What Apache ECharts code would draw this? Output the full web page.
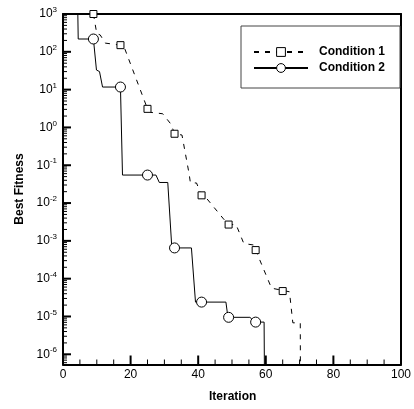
<!DOCTYPE html>
<html>
<head>
<meta charset="utf-8">
<script src="https://cdn.jsdelivr.net/npm/echarts@6/dist/echarts.min.js"></script>
<style>
html,body{margin:0;padding:0;background:#fff;}
#chart{width:414px;height:409px;}
</style>
</head>
<body>
<div id="chart"></div>
<script>
// ---- data (iteration, best fitness) ----
const cond1Iter = [9, 10, 11, 12.5, 17, 18, 25, 26, 29.5, 32, 33, 35.2, 37.3, 37.7, 39.5, 41, 42, 47.5, 48, 49, 51.2, 53.5, 56.7, 57, 57.5, 61.7, 64.5, 65, 67, 68, 70.2, 70.3];
const cond1Fit  = [1000, 300, 280, 170, 150, 140, 3.1, 2.5, 2.3, 1.2, 0.68, 0.63, 0.06, 0.034, 0.034, 0.016, 0.015, 0.0038, 0.0035, 0.0027, 0.0027, 0.00085, 0.00077, 0.00057, 0.00052, 0.000056, 0.00005, 0.000047, 0.000045, 0.0000068, 0.0000068, 1e-8];
const cond2Iter = [4.3, 4.5, 9, 9.3, 9.9, 10.8, 11.7, 17, 17.3, 17.6, 25, 27.5, 28.5, 31, 32.2, 33, 38, 39.2, 41, 48.2, 48.8, 49, 55.3, 56.8, 57, 59.5, 59.7];
const cond2Fit  = [3000, 218, 218, 218, 33, 30, 11.7, 11.7, 11.7, 0.055, 0.055, 0.055, 0.035, 0.035, 0.00065, 0.00065, 0.00065, 0.000024, 0.000024, 0.000024, 0.0000095, 0.0000095, 0.0000095, 0.0000071, 0.0000071, 0.0000071, 1e-8];
const cond1Markers = [9, 17, 25, 33, 41, 49, 57, 65];
const cond2Markers = [9, 17, 25, 33, 41, 49, 57];
const seriesNames = ['Condition 1', 'Condition 2'];
const xMajorTicks = [20, 40, 60, 80];
const xMinorTicks = [5, 10, 15, 25, 30, 35, 45, 50, 55, 65, 70, 75, 85, 90, 95];
const yDecades = [-6, -5, -4, -3, -2, -1, 0, 1, 2, 3];
const xTitle = 'Iteration';
const yTitle = 'Best Fitness';

const FONT = 'Liberation Sans, Arial, sans-serif';
const yMin = -6.27, yMax = 3;

function build(iters, fits, markers) {
  return iters.map((x, i) => {
    const item = { value: [x, Math.log10(fits[i])] };
    if (markers.indexOf(x) < 0) item.symbol = 'none';
    return item;
  });
}
const yMinor = [];
for (let n = -7; n <= 2; n++) {
  for (let k = 2; k <= 9; k++) {
    const v = n + Math.log10(k);
    if (v > yMin && v < yMax) yMinor.push(v);
  }
}

// tick data: [x, y, length, width, direction]  (0 = y-axis tick, 1 = x-axis tick)
const tickData = yDecades.map(v => [0, v, 8, 2, 0])
  .concat(yMinor.map(v => [0, v, 4, 1, 0]))
  .concat(xMajorTicks.map(v => [v, yMin, 9, 2, 1]))
  .concat(xMinorTicks.map(v => [v, yMin, 5, 1, 1]));

function tickShape(p, len, dir) {
  return dir === 0
    ? { x1: p[0], y1: p[1], x2: p[0] + len, y2: p[1] }
    : { x1: p[0], y1: p[1], x2: p[0], y2: p[1] - len };
}

const titleGraphics = [
  { type: 'text', top: 391, left: 209, style: { text: xTitle, font: 'bold 12px ' + FONT, fill: '#000' } },
  { type: 'text', x: 20, y: 189, rotation: Math.PI / 2,
    style: { text: yTitle, font: 'bold 12px ' + FONT, fill: '#000', align: 'center', verticalAlign: 'middle' } }
];

const chart = echarts.init(document.getElementById('chart'));
chart.setOption({
  animation: false,
  grid: { left: 63, right: 9, top: 14, bottom: 44.5 },
  xAxis: [{
    type: 'value', min: 0, max: 100, interval: 20, position: 'bottom',
    axisLine: { show: true, onZero: false, lineStyle: { color: '#000', width: 2 } },
    axisTick: { show: false },
    splitLine: { show: false },
    axisLabel: { color: '#000', fontSize: 12, fontFamily: FONT, margin: 4 }
  }, {
    type: 'value', min: 0, max: 100, interval: 20, position: 'top',
    axisLine: { show: true, onZero: false, lineStyle: { color: '#000', width: 2 } },
    axisTick: { show: false }, axisLabel: { show: false }, splitLine: { show: false }
  }],
  yAxis: [{
    type: 'value', min: yMin, max: yMax, position: 'left',
    axisLine: { show: true, onZero: false, lineStyle: { color: '#000', width: 2 } },
    axisTick: { show: false },
    splitLine: { show: false },
    axisLabel: {
      customValues: yDecades, margin: 6,
      formatter: v => '{b|10}{s|' + v + '}',
      rich: {
        b: { fontSize: 12, lineHeight: 16, fontFamily: FONT, color: '#000' },
        s: { fontSize: 8, verticalAlign: 'top', fontFamily: FONT, color: '#000' }
      }
    }
  }, {
    type: 'value', min: yMin, max: yMax, position: 'right',
    axisLine: { show: true, onZero: false, lineStyle: { color: '#000', width: 2 } },
    axisTick: { show: false }, axisLabel: { show: false }, splitLine: { show: false }
  }],
  legend: {
    orient: 'vertical', left: 241, top: 26,
    data: seriesNames,
    itemWidth: 54, itemHeight: 11, itemGap: 4,
    padding: [20, 15, 14, 12],
    borderColor: '#444', borderWidth: 1, backgroundColor: '#fff',
    itemStyle: { color: '#fff', borderColor: '#000', borderWidth: 1 },
    textStyle: { fontSize: 12, fontWeight: 'bold', fontFamily: FONT, color: '#000', padding: [0, 0, 0, 6] }
  },
  graphic: titleGraphics,
  series: [{
    name: seriesNames[0], type: 'line',
    data: build(cond1Iter, cond1Fit, cond1Markers),
    symbol: 'rect', symbolSize: 7, showSymbol: true,
    lineStyle: { color: '#000', width: 1, type: [5, 6] },
    itemStyle: { color: '#fff', borderColor: '#000', borderWidth: 1 },
    z: 3
  }, {
    name: seriesNames[1], type: 'line',
    data: build(cond2Iter, cond2Fit, cond2Markers),
    symbol: 'circle', symbolSize: 10, showSymbol: true,
    lineStyle: { color: '#000', width: 1 },
    itemStyle: { color: '#fff', borderColor: '#000', borderWidth: 1 },
    z: 3
  }]
});

// Axis ticks: positions come from the chart's own axis scales (convertToPixel)
const tickGraphics = tickData.map(t => {
  const p = chart.convertToPixel({ xAxisIndex: 0, yAxisIndex: 0 }, [t[0], t[1]]);
  return { type: 'line', z: 100, silent: true,
    shape: tickShape(p, t[2], t[4]),
    style: { stroke: '#000', lineWidth: t[3] } };
});
chart.setOption({ graphic: titleGraphics.concat(tickGraphics) });
</script>
</body>
</html>
